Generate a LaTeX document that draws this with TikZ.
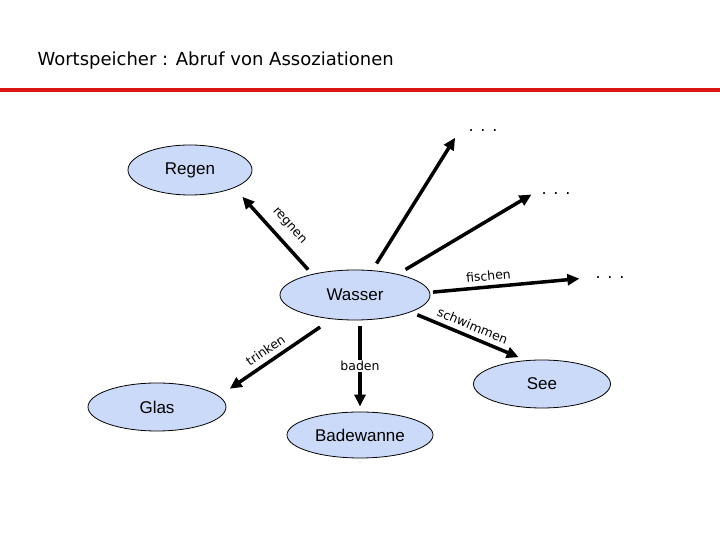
\documentclass[tikz,border=0pt]{standalone}
\usepackage{fontspec}
\setmainfont{Liberation Sans}
\newfontfamily\tahoma{DejaVu Sans}
\usepackage{tikz}
\usetikzlibrary{arrows.meta}
\usetikzlibrary{shapes.geometric}
\definecolor{wortblau}{HTML}{CCDAFA}
\definecolor{kopfrot}{HTML}{DC1414}

\begin{document}
\begin{tikzpicture}[x=1pt, y=1pt, >={Triangle[length=12pt, width=11pt]}]
			\tikzstyle{wort} = [draw, ellipse, fill=wortblau, line width=0.8pt, inner sep=0pt, font=\fontsize{17}{20}\selectfont]
			\tikzstyle{verb} = [font=\tahoma\fontsize{12.5}{15}\selectfont, inner sep=1.5pt]
			\tikzstyle{mehr} = [font=\tahoma\fontsize{16}{18}\selectfont, inner xsep=7.5pt, inner ysep=2pt]

			\useasboundingbox (0,0) rectangle (720,540);

			\node[anchor=base west, font=\tahoma\fontsize{18}{21}\selectfont] (titel) at (34,474) {Wortspeicher : Abruf von Assoziationen};
			\coordinate (linie1) at (0,450);
			\coordinate (linie2) at (720,450);
			\draw[kopfrot, line width=4pt] (linie1) -- (linie2);

			\begin{scope}
			\path[->, line width=3.5pt]
			node[wort, minimum width=150pt, minimum height=50pt] (wasser) at (355,245) {Wasser}
			node[wort, minimum width=124pt, minimum height=50pt] (regen) at (190,370) {Regen}
			node[wort, minimum width=138pt, minimum height=48pt] (glas) at (157,133) {Glas}
			node[wort, minimum width=137pt, minimum height=48pt] (see) at (542,156) {See}
			node[wort, minimum width=146pt, minimum height=46pt] (badewanne) at (360,105) {Badewanne}
			node[mehr] (mehr1) at (483,409) {. . .}
			node[mehr] (mehr2) at (556,346) {. . .}
			node[mehr] (mehr3) at (610,262) {. . .}

			(wasser.154) edge[shorten <=6pt, shorten >=12pt] node[verb, sloped, above=7pt, pos=0.44] {regnen} (regen.-22)
			(wasser.55) edge[shorten <=8pt, shorten >=8pt] (mehr1.west)
			(wasser.26) edge[shorten <=9pt, shorten >=1pt] (mehr2.west)
			(wasser.2) edge[shorten <=3pt, shorten >=7pt] node[verb, sloped, above=3pt, pos=0.38] {fischen} (mehr3.west)
			(wasser.-17) edge[shorten <=7pt, shorten >=8pt] node[verb, sloped, above=3pt] {schwimmen} (see.124)
			(wasser.226) edge[shorten <=14pt, shorten >=13pt] node[verb, sloped, above=3.5pt, pos=0.53] {trinken} (glas.10)
			(badewanne.north |- wasser.south) edge[shorten <=6pt, shorten >=5pt] node[verb, fill=white] {baden} (badewanne.north)
			;
			\end{scope}
\end{tikzpicture}
\end{document}
